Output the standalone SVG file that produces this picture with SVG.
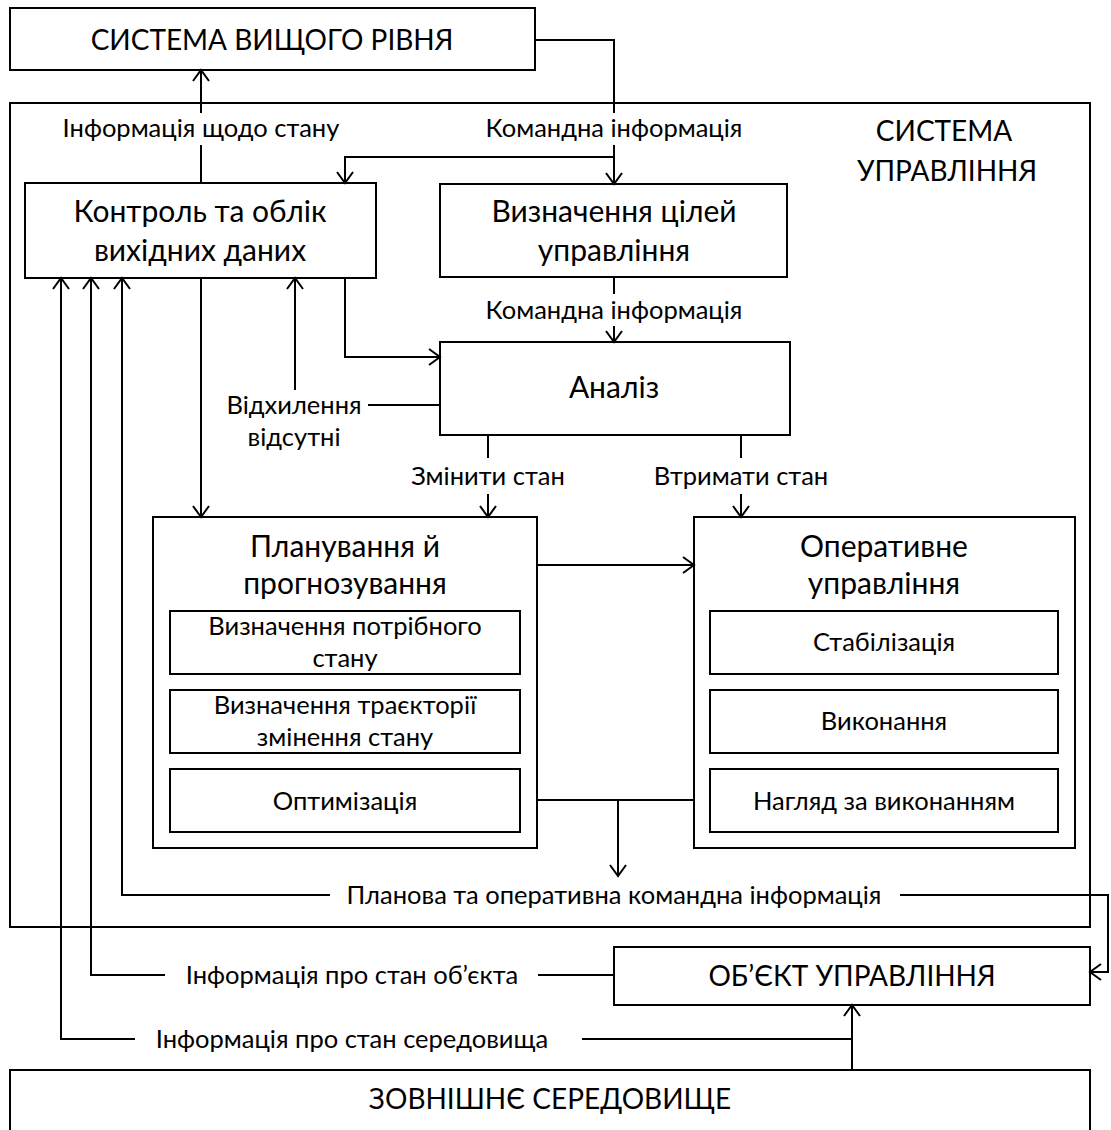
<svg xmlns="http://www.w3.org/2000/svg" width="1111" height="1130" viewBox="0 0 1111 1130">
<style>
.b{fill:#fff;stroke:#000;stroke-width:2}
.c{fill:none;stroke:#000;stroke-width:2}
text{font-family:Lato,"Open Sans","Liberation Sans",sans-serif;fill:#000;text-anchor:middle}
.t1{font-size:28px}
.t2{font-size:30px}
.t3{font-size:25.5px}
</style>
<defs>
<marker id="a" markerUnits="userSpaceOnUse" markerWidth="14" markerHeight="18" refX="12" refY="9" orient="auto">
<path d="M1,1 L12,9 L1,17" fill="none" stroke="#000" stroke-width="2"/>
</marker>
</defs>
<rect width="1111" height="1130" fill="#fff"/>
<g id="system-box"><rect class="b" x="10" y="103" width="1080" height="824"/>
<text class="t1" x="944" y="141">СИСТЕМА</text><text class="t1" x="947" y="181">УПРАВЛІННЯ</text></g>
<g id="top-system"><rect class="b" x="10" y="8" width="525" height="62"/><text class="t1" x="272" y="50">СИСТЕМА ВИЩОГО РІВНЯ</text></g>
<g id="control"><rect class="b" x="25" y="183" width="351" height="95"/><text class="t2" x="200" y="222">Контроль та облік</text><text class="t2" x="200" y="261">вихідних даних</text></g>
<g id="goals"><rect class="b" x="440" y="184" width="347" height="93"/><text class="t2" x="614" y="222">Визначення цілей</text><text class="t2" x="614" y="261">управління</text></g>
<g id="analysis"><rect class="b" x="440" y="342" width="350" height="93"/><text class="t2" x="614" y="398">Аналіз</text></g>
<g id="planning"><rect class="b" x="153" y="517" width="384" height="331"/><text class="t2" x="345" y="557">Планування й</text><text class="t2" x="345" y="594">прогнозування</text>
<rect class="b" x="170" y="611" width="350" height="63"/><text class="t3" x="345" y="635">Визначення потрібного</text><text class="t3" x="345" y="667">стану</text>
<rect class="b" x="170" y="690" width="350" height="63"/><text class="t3" x="345" y="714">Визначення траєкторії</text><text class="t3" x="345" y="746">змінення стану</text>
<rect class="b" x="170" y="769" width="350" height="63"/><text class="t3" x="345" y="810">Оптимізація</text></g>
<g id="operative"><rect class="b" x="694" y="517" width="381" height="331"/><text class="t2" x="884" y="557">Оперативне</text><text class="t2" x="884" y="594">управління</text>
<rect class="b" x="710" y="611" width="348" height="63"/><text class="t3" x="884" y="651">Стабілізація</text>
<rect class="b" x="710" y="690" width="348" height="63"/><text class="t3" x="884" y="730">Виконання</text>
<rect class="b" x="710" y="769" width="348" height="63"/><text class="t3" x="884" y="810">Нагляд за виконанням</text></g>
<g id="object"><rect class="b" x="614" y="947" width="476" height="58"/><text class="t1" x="852" y="986">ОБ’ЄКТ УПРАВЛІННЯ</text></g>
<g id="environment"><rect class="b" x="10" y="1070" width="1080" height="80"/><text class="t1" x="550" y="1109">ЗОВНІШНЄ СЕРЕДОВИЩЕ</text></g>
<g id="connectors">
<path class="c" d="M201,113 V70" marker-end="url(#a)"/>
<path class="c" d="M201,183 V145"/>
<path class="c" d="M535,40 H614 V113"/>
<path class="c" d="M614,145 V184" marker-end="url(#a)"/>
<path class="c" d="M614,157 H345 V183" marker-end="url(#a)"/>
<path class="c" d="M614,277 V294"/>
<path class="c" d="M614,326 V342" marker-end="url(#a)"/>
<path class="c" d="M345,278 V357 H440" marker-end="url(#a)"/>
<path class="c" d="M440,405 H368"/>
<path class="c" d="M295,390 V278" marker-end="url(#a)"/>
<path class="c" d="M488,435 V458"/>
<path class="c" d="M488,494 V517" marker-end="url(#a)"/>
<path class="c" d="M741,435 V458"/>
<path class="c" d="M741,494 V517" marker-end="url(#a)"/>
<path class="c" d="M201,278 V517" marker-end="url(#a)"/>
<path class="c" d="M537,565 H694" marker-end="url(#a)"/>
<path class="c" d="M537,800 H694 M618,800 V876" marker-end="url(#a)"/>
<path class="c" d="M330,895 H122 V278" marker-end="url(#a)"/>
<path class="c" d="M900,895 H1108 V972 H1090" marker-end="url(#a)"/>
<path class="c" d="M614,975 H538"/>
<path class="c" d="M165,975 H91 V278" marker-end="url(#a)"/>
<path class="c" d="M852,1070 V1039 H582"/>
<path class="c" d="M852,1039 V1005" marker-end="url(#a)"/>
<path class="c" d="M135,1039 H61 V278" marker-end="url(#a)"/>
</g>
<g id="labels">
<text class="t3" x="201" y="137">Інформація щодо стану</text>
<text class="t3" x="614" y="137">Командна інформація</text>
<text class="t3" x="614" y="319">Командна інформація</text>
<text class="t3" x="294" y="414">Відхилення</text>
<text class="t3" x="294" y="446">відсутні</text>
<text class="t3" x="488" y="485">Змінити стан</text>
<text class="t3" x="741" y="485">Втримати стан</text>
<text class="t3" x="614" y="904">Планова та оперативна командна інформація</text>
<text class="t3" x="352" y="984">Інформація про стан об’єкта</text>
<text class="t3" x="352" y="1048">Інформація про стан середовища</text>
</g>
</svg>
